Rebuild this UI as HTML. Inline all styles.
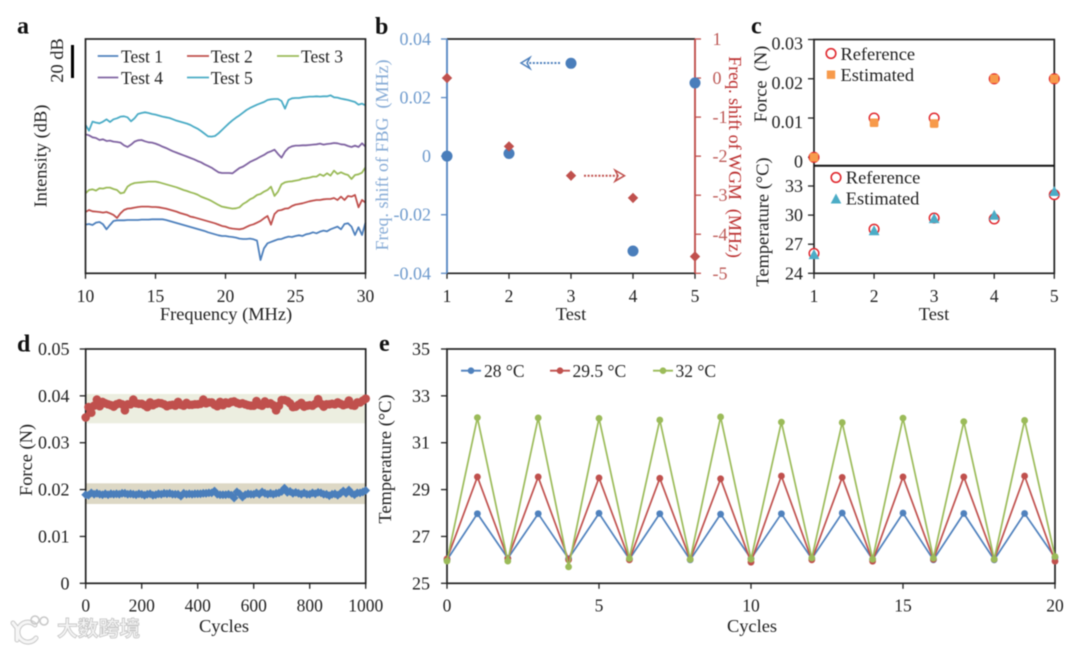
<!DOCTYPE html>
<html lang="en">
<head>
<meta charset="utf-8">
<title>Multi-panel sensor chart</title>
<style>
html,body{margin:0;padding:0;background:#fff;}
#figure{display:block;width:1080px;height:648px;filter:blur(0.45px);}
text{font-family:"Liberation Serif","Noto Serif CJK SC",serif;fill:#222;}
.tick{font-size:17.5px;}
.big{font-size:18px;}
.title{font-size:18.4px;}
.letter{font-size:24px;font-weight:bold;fill:#111;}
.frame{fill:none;stroke:#222;stroke-width:1.7;}
</style>
</head>
<body>
<svg id="figure" xmlns="http://www.w3.org/2000/svg" width="1080" height="648" viewBox="0 0 1080 648">
  <rect x="0" y="0" width="1080" height="648" fill="#fff"/>

  <text class="letter" x="17" y="33.5">a</text>
  <text class="letter" x="375" y="34">b</text>
  <text class="letter" x="751" y="33.5">c</text>
  <text class="letter" x="17" y="351.5">d</text>
  <text class="letter" x="379" y="351">e</text>

  <g id="panel-a"></g>
  <rect class="frame" x="85.5" y="39" width="280" height="234.3"/>
  <rect x="71" y="45" width="3" height="33" fill="#000"/>
  <text class="title" transform="translate(63,60.5) rotate(-90)" text-anchor="middle">20 dB</text>
  <text class="title" transform="translate(46.5,156) rotate(-90)" text-anchor="middle">Intensity (dB)</text>
  <text class="title" x="226" y="320" text-anchor="middle">Frequency (MHz)</text>
  <g>
    <line x1="97.7" x2="118.3" y1="56" y2="56" stroke="#4f81bd" stroke-width="1.8"/>
    <text class="tick" x="121" y="62.5">Test 1</text>
    <line x1="187" x2="209" y1="56" y2="56" stroke="#c0504d" stroke-width="1.8"/>
    <text class="tick" x="210.7" y="62.5">Test 2</text>
    <line x1="277" x2="299" y1="56" y2="56" stroke="#9bbb59" stroke-width="1.8"/>
    <text class="tick" x="301" y="62.5">Test 3</text>
    <line x1="97.7" x2="118.3" y1="77.5" y2="77.5" stroke="#8064a2" stroke-width="1.8"/>
    <text class="tick" x="121" y="84">Test 4</text>
    <line x1="187" x2="209" y1="77.5" y2="77.5" stroke="#4bacc6" stroke-width="1.8"/>
    <text class="tick" x="210.7" y="84">Test 5</text>
  </g>

  <line x1="447" x2="695" y1="39" y2="39" stroke="#222" stroke-width="1.7"/>
  <line x1="447" x2="695" y1="273.3" y2="273.3" stroke="#222" stroke-width="1.7"/>
  <line x1="447" x2="447" y1="39" y2="273.3" stroke="#5b8ac4" stroke-width="1.9"/>
  <line x1="695" x2="695" y1="39" y2="273.3" stroke="#c0504d" stroke-width="1.9"/>
  <g id="panel-b"></g>
  <text class="big" transform="translate(388,155) rotate(-90)" text-anchor="middle" style="fill:#86abd6" xml:space="preserve">Freq. shift of FBG&#160; (MHz)</text>
  <text class="big" transform="translate(729,157) rotate(90)" text-anchor="middle" style="fill:#bb2f2f" xml:space="preserve">Freq. shift of WGM&#160; (MHz)</text>
  <text class="title" x="571" y="320" text-anchor="middle">Test</text>
  <g>
    <line x1="560" x2="526" y1="63" y2="63" stroke="#4f81bd" stroke-width="2" stroke-dasharray="2 1.6"/>
    <path d="M530,57.5 L521,63 L530,68.5 L527,63 Z" fill="#fff" stroke="#4f81bd" stroke-width="1.5"/>
  </g>
  <g>
    <line x1="584" x2="619" y1="175.7" y2="175.7" stroke="#c0504d" stroke-width="2" stroke-dasharray="2 1.6"/>
    <path d="M615,170.2 L624.5,175.7 L615,181.2 L618,175.7 Z" fill="#fff" stroke="#c0504d" stroke-width="1.5"/>
  </g>

  <rect class="frame" x="814" y="39.5" width="240.3" height="233.8"/>
  <line x1="814" x2="1054.3" y1="165.7" y2="165.7" stroke="#111" stroke-width="2"/>
  <g id="panel-c"></g>
  <text class="title" transform="translate(766.5,84) rotate(-90)" text-anchor="middle" xml:space="preserve">Force&#160; (N)</text>
  <text class="title" transform="translate(768.5,222) rotate(-90)" text-anchor="middle">Temperature (°C)</text>
  <text class="title" x="934" y="320" text-anchor="middle">Test</text>
  <g>
    <circle cx="831" cy="53.5" r="4.8" fill="#fff" stroke="#e0282e" stroke-width="1.6"/>
    <text class="title" x="840.5" y="60">Reference</text>
    <rect x="826.8" y="70.5" width="8.4" height="8.4" fill="#f79a4b"/>
    <text class="title" x="840.5" y="81">Estimated</text>
  </g>
  <g>
    <circle cx="836" cy="177.5" r="4.8" fill="#fff" stroke="#e0282e" stroke-width="1.6"/>
    <text class="title" x="845.8" y="183.5">Reference</text>
    <path d="M836,193.5 L841.3,203.5 L830.7,203.5 Z" fill="#4bacc6"/>
    <text class="title" x="845.8" y="204.5">Estimated</text>
  </g>

  <rect x="85.7" y="394" width="280" height="29.3" fill="#eceee0"/>
  <rect x="85.7" y="483.3" width="280" height="20.7" fill="#ddd8c5"/>
  <rect class="frame" x="85.7" y="349" width="280" height="234.3"/>
  <g id="panel-d"></g>
  <text class="title" transform="translate(32,460) rotate(-90)" text-anchor="middle">Force (N)</text>
  <text class="title" x="224" y="632" text-anchor="middle">Cycles</text>

  <rect class="frame" x="447" y="349" width="608" height="234.3"/>
  <g id="panel-e"></g>
  <text class="title" transform="translate(391,459) rotate(-90)" text-anchor="middle">Temperature (°C)</text>
  <text class="title" x="752" y="632" text-anchor="middle">Cycles</text>
  <g>
    <line x1="461" x2="481" y1="370.7" y2="370.7" stroke="#4f81bd" stroke-width="1.8"/>
    <circle cx="471" cy="370.7" r="3.3" fill="#4f81bd"/>
    <text class="tick" x="484" y="377">28 °C</text>
    <line x1="550" x2="570" y1="370.7" y2="370.7" stroke="#c0504d" stroke-width="1.8"/>
    <circle cx="560" cy="370.7" r="3.3" fill="#c0504d"/>
    <text class="tick" x="572.5" y="377">29.5 °C</text>
    <line x1="653" x2="673" y1="370.7" y2="370.7" stroke="#9bbb59" stroke-width="1.8"/>
    <circle cx="663" cy="370.7" r="3.3" fill="#9bbb59"/>
    <text class="tick" x="675.5" y="377">32 °C</text>
  </g>

  <g>
    <g fill="none" stroke-linecap="round">
      <path d="M13,623 L17,628 L17,640 M35,625 A10,10 0 1 0 36,638" stroke="#c8c8c8" stroke-width="5"/>
      <path d="M13,623 L17,628 L17,640 M35,625 A10,10 0 1 0 36,638" stroke="#f6f6f6" stroke-width="3"/>
      <circle cx="35" cy="620" r="4" stroke="#c8c8c8" stroke-width="1.5"/>
      <circle cx="44" cy="621" r="4" stroke="#c8c8c8" stroke-width="1.5"/>
    </g>
    <text x="57" y="636" style="font-family:'Liberation Sans','Noto Sans CJK SC',sans-serif;font-size:20.8px;font-weight:bold;fill:#f4f4f4;stroke:#c4c4c4;stroke-width:0.8px">大数跨境</text>
  </g>
</svg>

<script>
// Panel a: spectra, sampled every 0.25 MHz
const aFrequencies = [10,10.25,10.5,10.75,11,11.25,11.5,11.75,12,12.25,12.5,12.75,13,13.25,13.5,13.75,14,14.25,14.5,14.75,15,15.25,15.5,15.75,16,16.25,16.5,16.75,17,17.25,17.5,17.75,18,18.25,18.5,18.75,19,19.25,19.5,19.75,20,20.25,20.5,20.75,21,21.25,21.5,21.75,22,22.25,22.5,22.75,23,23.25,23.5,23.75,24,24.25,24.5,24.75,25,25.25,25.5,25.75,26,26.25,26.5,26.75,27,27.25,27.5,27.75,28,28.25,28.5,28.75,29,29.25,29.5,29.75,30];
const aTest1 = [29.2,29.6,29,30.4,30.8,29.4,26.4,29,31.4,31.8,31.8,31.8,32,32,32,32,32.2,32.2,32.2,32.4,32.4,32.4,32.4,32,31.4,30.8,30.2,29.6,29,28.4,27.8,27.2,26.6,26,25.4,24.6,24,23.4,22.8,22.4,22.4,22,21.8,21.4,20.8,20.6,20.6,20.8,20.4,19.6,8,15,18,18.8,19.6,20.4,20.6,21.4,22,21.8,22.4,22.8,22.4,23.4,23.8,24.6,24,25,25.6,25.2,26.4,27.2,28,26.4,29.6,30,28,23,27.6,23,30.4];
const aTest2 = [36.8,38,37.2,37,36.8,36.4,36.8,36,35,33.2,36,38,38.8,39,39.4,39.8,40,40,40,39.8,39.8,39.6,39.2,38.8,38.2,37.6,37,36.2,35.6,35,34,33.6,33,32.4,31.8,31.2,30.6,30,29.2,28.4,28,27.2,26.8,26.6,26.4,26.8,27.8,28.8,29.4,30.4,31.4,33,34.4,29.2,35.6,37.6,38,38.8,39,40.4,41.2,41.6,42,42.6,43.2,43.6,44,44,44.4,44.6,44.6,45.2,44,46,44,46.4,46,47,39.6,44,42.4];
const aTest3 = [48,50,50.4,49.6,51,50.8,51.4,51.4,50.6,50,48,48.4,52,53.4,54.2,54.4,54.6,54.8,55,55,55,54.6,54,53.4,52.8,52.2,51.6,50.8,50,49.4,48.6,48,47.2,46,45.2,44.4,43.4,42.2,41,40,39.6,39.2,38.8,39,39.6,41.6,42.8,44.4,45.4,47,47.6,49,50,52,46.4,49,53.4,54.6,55,55.2,55.6,56,56.8,57,57.4,58,58,59.4,58.4,60,58.6,61.6,59.6,60.6,59.6,59,56.6,59,59.4,60.4,63.6];
const aTest4 = [83.4,82.8,81.6,81.2,80,80.4,79.4,79.6,79,78.8,78.4,76.8,75.8,77.2,79,79.8,80,79.2,78.6,78.4,77.8,77,76,75.2,74.2,73.2,72.4,71.6,70.8,70,69.2,68.4,67.4,66.6,65.4,64.4,63.4,62,60.6,60.2,60.2,60.2,60,61.6,63.2,64,65.4,66.8,67.8,68.8,70,71,72.4,73.2,74.2,71.6,69.4,73,75.2,76.2,76.6,76.6,76.8,76.8,77,77.2,77.4,77.8,77.2,77.6,77.8,78.2,78,77.4,77.2,76.4,75.8,76.6,75.8,78,76];
const aTest5 = [89,85.6,91,90.4,90,91,92.4,90.8,92.4,93,94,94.2,93.6,91.2,93,95.6,96.2,96.6,96.2,95.6,95.2,94.6,94,93.6,93.2,92.4,91.6,91,90.4,89.8,89,87.8,86.8,85.4,83.8,82.2,82,82.4,84,86,88,90,91.8,93.4,94.8,96.4,98,99.2,100.2,101.2,102,102.8,104,104.4,104.6,104.6,103.4,98.8,104,105,105.2,105.2,105.6,105.8,106,106,106.2,106,106.2,106.2,106.8,105.6,105.4,104.8,104.4,104,103.4,102.8,101.2,101.8,100.8];
const aTicks = [10,15,20,25,30];

// Panel b
const bTests = [1,2,3,4,5];
const bFbgShift = [0,0.0009,0.0317,-0.0324,0.025];
const bWgmShift = [0,-1.75,-2.5,-3.07,-4.57];
const bLeftTicks = [0.04,0.02,0,-0.02,-0.04];
const bLeftLabels = ['0.04','0.02','0','-0.02','-0.04'];
const bRightTicks = [1,0,-1,-2,-3,-4,-5];

// Panel c
const cTests = [1,2,3,4,5];
const cForceReference = [0,0.01,0.01,0.02,0.02];
const cForceEstimated = [0,0.0088,0.0086,0.02,0.02];
const cTempReference = [26.05,28.55,29.7,29.6,32.1];
const cTempEstimated = [25.9,28.35,29.6,29.95,32.4];
const cForceTicks = [0.03,0.02,0.01,0];
const cForceLabels = ['0.03','0.02','0.01','0'];
const cTempTicks = [33,30,27,24];

// Panel d
const dCycles = [0,10,20,30,40,50,60,70,80,90,100,110,120,130,140,150,160,170,180,190,200,210,220,230,240,250,260,270,280,290,300,310,320,330,340,350,360,370,380,390,400,410,420,430,440,450,460,470,480,490,500,510,520,530,540,550,560,570,580,590,600,610,620,630,640,650,660,670,680,690,700,710,720,730,740,750,760,770,780,790,800,810,820,830,840,850,860,870,880,890,900,910,920,930,940,950,960,970,980,990,1000];
const dUpperForce = [35.4,37.6,36.4,37.9,39.2,37.8,38.7,38.4,38.2,38,37.7,38.2,38.4,38.2,36.9,38.2,38.2,39.2,38.4,38.3,38.3,38,37.6,38.6,38,38.3,38.5,38.4,38.2,37.8,38,38.1,37.9,38.7,38.1,37.9,38.5,38.1,38.1,38.2,38.2,38.3,39.2,38.4,38.6,38.6,38.1,37.8,38.7,38,38.6,38.4,38.7,38.8,38.5,38.3,38.4,38.2,38,37.9,37.9,38.9,38.1,37.9,38.8,38.3,38.4,38,36.9,37.9,39.1,39.1,38.9,38.4,37.6,37.7,38.1,38.5,37.7,37.9,38,37.9,38.3,39.3,38.3,37.7,38.2,38.2,38.3,38.2,38.6,38.3,38,38.2,39,38,37.9,38.6,38.6,39,39.4];
const dLowerForce = [18.9,18.8,19.3,19,19.2,19,18.9,19.1,18.9,19.1,19,19.1,19,19.2,19.2,19,19.1,19,18.9,19.1,19,18.8,19,19.1,18.8,18.9,19.1,19,19.2,19.1,19.2,19,19,19,18.6,19.2,19,19.1,19,19.1,19.1,19.1,19.2,19.2,19.3,19.3,19.7,19,18.9,18.9,18.9,19,18.8,18.2,19.5,19.1,18.4,18.9,19.1,19,19,19.3,19,19.5,19.2,19,19.2,19,19.2,19.3,19.6,20.3,19.4,19.6,19.2,19.4,19.2,19,19.3,19,19,19.3,19.1,19.4,19.3,19,19,18.7,19,19.1,18.8,19.2,19.7,19.2,19.9,19.2,18.9,19.3,19.3,19.5,19.8];
const dXTicks = [0,200,400,600,800,1000];
const dYTicks = [0.05,0.04,0.03,0.02,0.01,0];
const dYLabels = ['0.05','0.04','0.03','0.02','0.01','0'];

// Panel e
const eCycles = [0,1,2,3,4,5,6,7,8,9,10,11,12,13,14,15,16,17,18,19,20];
const eTemp28 = [26,27.97,26.07,27.97,26.05,27.99,26.03,27.97,26,27.95,26.05,27.97,26.05,28,26.02,28,26,27.98,26,27.98,26.1];
const eTemp295 = [26.04,29.54,26.05,29.54,26,29.5,26,29.48,26.02,29.46,25.9,29.58,26,29.52,25.94,29.54,26.02,29.54,26.02,29.58,25.94];
const eTemp32 = [25.95,32.07,25.95,32.06,25.7,32.04,26.06,31.97,26.02,32.1,26.03,31.88,26.08,31.86,26.03,32.05,26.07,31.9,26.03,31.95,26.14];
const eXTicks = [0,5,10,15,20];
const eYTicks = [35,33,31,29,27,25];

const NS = 'http://www.w3.org/2000/svg';
function linear(d0, d1, r0, r1) {
  return function (v) { return r0 + (v - d0) * (r1 - r0) / (d1 - d0); };
}
function make(parent, tag, attrs, text) {
  const el = document.createElementNS(NS, tag);
  Object.keys(attrs).forEach(function (k) { el.setAttribute(k, attrs[k]); });
  if (text !== undefined) el.textContent = text;
  parent.appendChild(el);
  return el;
}
function drawXAxis(parent, prefix, values, labels, sx, y0, baseline, color) {
  values.forEach(function (v, i) {
    const tick = make(parent, 'line', {x1: sx(v), x2: sx(v), y1: y0, y2: y0 + 5.5, stroke: color, 'stroke-width': 1.3});
    
    
    const label = make(parent, 'text', {x: sx(v), y: baseline, 'text-anchor': 'middle', 'class': 'tick'}, labels[i]);
    
    
  });
}
function drawYAxis(parent, prefix, values, labels, sy, xAxis, dir, labelX, anchor, color, textColor, offset) {
  values.forEach(function (v, i) {
    const tick = make(parent, 'line', {x1: xAxis, x2: xAxis + dir * 6, y1: sy(v), y2: sy(v), stroke: color, 'stroke-width': 1.3});
    
    
    const label = make(parent, 'text', {x: labelX, y: sy(v) + offset, 'text-anchor': anchor, 'class': 'big', style: 'fill:' + textColor}, labels[i]);
    
    
  });
}
function polyPoints(xs, ys, sx, sy) {
  return xs.map(function (x, i) { return sx(x).toFixed(2) + ',' + sy(ys[i]).toFixed(2); }).join(' ');
}

/* Panel a */
(function () {
  const g = document.getElementById('panel-a');
  const sx = linear(10, 30, 85.5, 365.5);
  const sy = linear(0, 140.6, 273.3, 39);
  const lines = [
    ['test-1-line', aTest1, '#4f81bd'],
    ['test-2-line', aTest2, '#c0504d'],
    ['test-3-line', aTest3, '#9bbb59'],
    ['test-4-line', aTest4, '#8064a2'],
    ['test-5-line', aTest5, '#4bacc6']
  ];
  lines.forEach(function (s) {
    const line = make(g, 'polyline', {points: polyPoints(aFrequencies, s[1], sx, sy), fill: 'none', stroke: s[2], 'stroke-width': 1.8, 'stroke-linejoin': 'round'});
    
    
  });
  drawXAxis(g, 'panel-a', aTicks, aTicks.map(String), sx, 273.3, 302, '#222');
})();

/* Panel b */
(function () {
  const g = document.getElementById('panel-b');
  const sx = linear(1, 5, 447, 695);
  const syL = linear(-0.04, 0.04, 273.3, 39);
  const syR = linear(-5, 1, 273.3, 39);
  drawXAxis(g, 'panel-b', bTests, bTests.map(String), sx, 273.3, 302, '#222');
  drawYAxis(g, 'panel-b-left', bLeftTicks, bLeftLabels, syL, 447, -1, 431, 'end', '#5b8ac4', '#6f9bcd', 6);
  drawYAxis(g, 'panel-b-right', bRightTicks, bRightTicks.map(String), syR, 695, 1, 712.5, 'start', '#c0504d', '#bd5a57', 6);
  bFbgShift.forEach(function (v, i) {
    const dot = make(g, 'circle', {cx: sx(bTests[i]), cy: syL(v), r: 5.5, fill: '#4a7ebb'});
    
    
  });
  bWgmShift.forEach(function (v, i) {
    const cx = sx(bTests[i]);
    const cy = syR(v);
    const d = 5.2;
    const mark = make(g, 'polygon', {points: [cx - d, cy, cx, cy - d, cx + d, cy, cx, cy + d].join(' '), fill: '#c0504d'});
    
    
  });
})();

/* Panel c */
(function () {
  const g = document.getElementById('panel-c');
  const sx = linear(1, 5, 814, 1054.3);
  const syF = linear(0, 0.03, 157.3, 39.5);
  const syT = linear(24, 33, 273.3, 186);
  drawXAxis(g, 'panel-c', cTests, cTests.map(String), sx, 273.3, 302, '#222');
  drawYAxis(g, 'panel-c-force', cForceTicks, cForceLabels, syF, 814, -1, 803, 'end', '#222', '#222', 10);
  drawYAxis(g, 'panel-c-temperature', cTempTicks, cTempTicks.map(String), syT, 814, -1, 803, 'end', '#222', '#222', 6);
  cForceReference.forEach(function (v, i) {
    const c = make(g, 'circle', {cx: sx(cTests[i]), cy: syF(v), r: 4.8, fill: '#fff', stroke: '#e0282e', 'stroke-width': 1.5});
    
    
  });
  cForceEstimated.forEach(function (v, i) {
    const s = 8.6;
    const r = make(g, 'rect', {x: sx(cTests[i]) - s / 2, y: syF(v) - s / 2, width: s, height: s, rx: 1.6, fill: '#f79a4b'});
    
    
  });
  cTempReference.forEach(function (v, i) {
    const c = make(g, 'circle', {cx: sx(cTests[i]), cy: syT(v), r: 4.8, fill: '#fff', stroke: '#e0282e', 'stroke-width': 1.5});
    
    
  });
  cTempEstimated.forEach(function (v, i) {
    const cx = sx(cTests[i]);
    const cy = syT(v);
    const t = make(g, 'polygon', {points: [cx, cy - 5.8, cx + 5.4, cy + 4.2, cx - 5.4, cy + 4.2].join(' '), fill: '#4bacc6'});
    
    
  });
})();

/* Panel d */
(function () {
  const g = document.getElementById('panel-d');
  const sx = linear(0, 1000, 85.7, 365.7);
  const sy = linear(0, 0.05, 583.3, 349);
  const syMilli = function (v) { return sy(v / 1000); };
  drawXAxis(g, 'panel-d', dXTicks, dXTicks.map(String), sx, 583.3, 611.7, '#222');
  drawYAxis(g, 'panel-d', dYTicks, dYLabels, sy, 85.7, -1, 69.5, 'end', '#222', '#222', 6);
  const upper = make(g, 'polyline', {points: polyPoints(dCycles, dUpperForce, sx, syMilli), fill: 'none', stroke: '#c0504d', 'stroke-width': 2});
  
  
  dUpperForce.forEach(function (v, i) {
    const c = make(g, 'circle', {cx: sx(dCycles[i]), cy: syMilli(v), r: 4.3, fill: '#c0504d'});
    
    
  });
  const lower = make(g, 'polyline', {points: polyPoints(dCycles, dLowerForce, sx, syMilli), fill: 'none', stroke: '#4a7ebb', 'stroke-width': 2});
  
  
  dLowerForce.forEach(function (v, i) {
    const cx = sx(dCycles[i]);
    const cy = syMilli(v);
    const d = 4.4;
    const m = make(g, 'polygon', {points: [cx - d, cy, cx, cy - d, cx + d, cy, cx, cy + d].join(' '), fill: '#4a7ebb'});
    
    
  });
})();

/* Panel e */
(function () {
  const g = document.getElementById('panel-e');
  const sx = linear(0, 20, 447, 1055);
  const sy = linear(25, 35, 583.3, 349);
  drawXAxis(g, 'panel-e', eXTicks, eXTicks.map(String), sx, 583.3, 611.7, '#222');
  drawYAxis(g, 'panel-e', eYTicks, eYTicks.map(String), sy, 447, -1, 430, 'end', '#222', '#222', 6);
  const series = [
    ['temp-28c', eTemp28, '#4f81bd'],
    ['temp-29-5c', eTemp295, '#c0504d'],
    ['temp-32c', eTemp32, '#9bbb59']
  ];
  series.forEach(function (s) {
    const line = make(g, 'polyline', {points: polyPoints(eCycles, s[1], sx, sy), fill: 'none', stroke: s[2], 'stroke-width': 1.7});
    
    
    s[1].forEach(function (v, i) {
      const dot = make(g, 'circle', {cx: sx(eCycles[i]), cy: sy(v), r: 3.4, fill: s[2]});
      
      
    });
  });
})();
</script>
</body>
</html>
